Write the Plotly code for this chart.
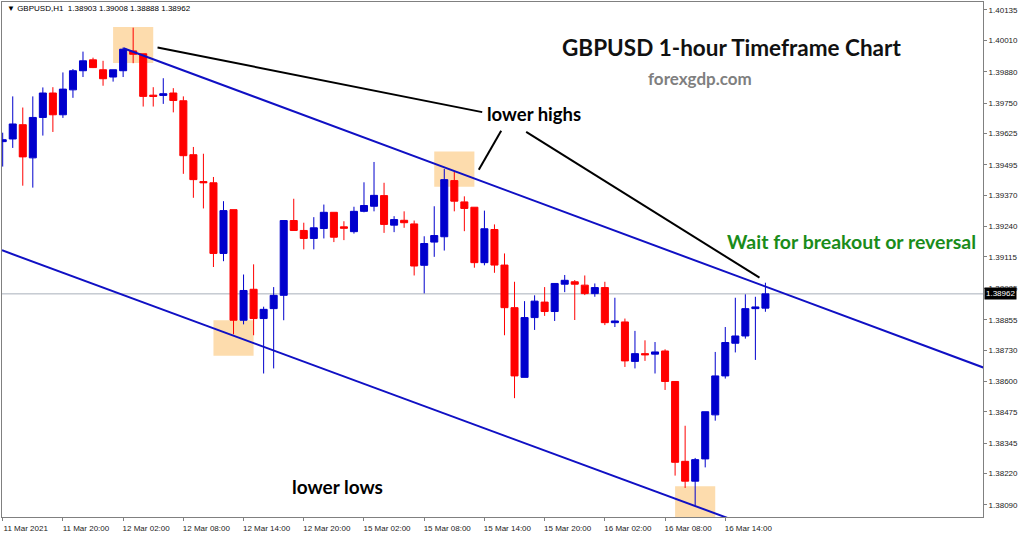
import plotly.graph_objects as go

# ---------------- data (GBPUSD H1, 11 Mar 14:00 -> 16 Mar 18:00) ----------------
opens = [
    1.39591, 1.39602, 1.39661, 1.39524, 1.39691, 1.39792, 1.39702, 1.39805, 1.39884, 1.39929,
    1.39888, 1.39858, 1.39884, 1.39966, 1.39954, 1.39783, 1.39782, 1.39792, 1.39760, 1.39537,
    1.39426, 1.39421, 1.39129, 1.39310, 1.38853, 1.38981, 1.38860, 1.38901, 1.38956, 1.39265,
    1.39224, 1.39191, 1.39232, 1.39299, 1.39239, 1.39219, 1.39303, 1.39324, 1.39368, 1.39246,
    1.39266, 1.39251, 1.39080, 1.39176, 1.39198, 1.39430, 1.39342, 1.39320, 1.39091, 1.39228,
    1.39081, 1.38905, 1.38617, 1.38864, 1.38928, 1.38889, 1.39002, 1.39012, 1.38998, 1.38963,
    1.38988, 1.38843, 1.38846, 1.38683, 1.38715, 1.38713, 1.38726, 1.38600, 1.38270, 1.38188,
    1.38280, 1.38462, 1.38623, 1.38758, 1.38788, 1.38901, 1.38903]
highs = [
    1.39628, 1.39778, 1.39732, 1.39778, 1.39815, 1.39816, 1.39877, 1.39891, 1.39963, 1.39938,
    1.39925, 1.39888, 1.39980, 1.40062, 1.39954, 1.39816, 1.39853, 1.39812, 1.39778, 1.39569,
    1.39541, 1.39445, 1.39345, 1.39310, 1.39042, 1.39084, 1.38909, 1.38990, 1.39265, 1.39355,
    1.39256, 1.39279, 1.39331, 1.39299, 1.39262, 1.39322, 1.39423, 1.39507, 1.39421, 1.39283,
    1.39303, 1.39265, 1.39200, 1.39324, 1.39478, 1.39468, 1.39365, 1.39320, 1.39306, 1.39249,
    1.39129, 1.39012, 1.38932, 1.38956, 1.38990, 1.39005, 1.39040, 1.39019, 1.39038, 1.39005,
    1.39012, 1.38946, 1.38860, 1.38809, 1.38770, 1.38763, 1.38733, 1.38600, 1.38417, 1.38284,
    1.38475, 1.38722, 1.38825, 1.38946, 1.38960, 1.38950, 1.39008]
lows = [
    1.39488, 1.39565, 1.39409, 1.39401, 1.39616, 1.39631, 1.39689, 1.39772, 1.39858, 1.39895,
    1.39822, 1.39839, 1.39858, 1.39915, 1.39736, 1.39736, 1.39747, 1.39712, 1.39458, 1.39359,
    1.39315, 1.39073, 1.39097, 1.38795, 1.38836, 1.38791, 1.38633, 1.38654, 1.38853, 1.39224,
    1.39146, 1.39146, 1.39191, 1.39176, 1.39184, 1.39211, 1.39299, 1.39303, 1.39214, 1.39217,
    1.39235, 1.39038, 1.38964, 1.39115, 1.39141, 1.39303, 1.39221, 1.39070, 1.39080, 1.39049,
    1.38791, 1.38531, 1.38617, 1.38813, 1.38871, 1.38850, 1.38969, 1.38854, 1.38957, 1.38950,
    1.38833, 1.38825, 1.38660, 1.38654, 1.38685, 1.38633, 1.38565, 1.38211, 1.38160, 1.38087,
    1.38245, 1.38438, 1.38612, 1.38720, 1.38777, 1.38689, 1.38888]
closes = [
    1.39599, 1.39664, 1.39528, 1.39691, 1.39792, 1.39702, 1.39808, 1.39884, 1.39925, 1.39897,
    1.39851, 1.39888, 1.39973, 1.39952, 1.39778, 1.39778, 1.39789, 1.39761, 1.39533, 1.39434,
    1.39421, 1.39129, 1.39306, 1.38853, 1.38976, 1.38860, 1.38898, 1.38956, 1.39265, 1.39224,
    1.39191, 1.39235, 1.39299, 1.39196, 1.39233, 1.39303, 1.39327, 1.39369, 1.39249, 1.39269,
    1.39256, 1.39077, 1.39170, 1.39203, 1.39434, 1.39345, 1.39315, 1.39091, 1.39231, 1.39081,
    1.38905, 1.38623, 1.38864, 1.38932, 1.38889, 1.39005, 1.39018, 1.39002, 1.38963, 1.38988,
    1.38843, 1.38850, 1.38685, 1.38715, 1.38710, 1.38722, 1.38600, 1.38266, 1.38188, 1.38277,
    1.38475, 1.38623, 1.38761, 1.38788, 1.38901, 1.38908, 1.38962]

x_tick_pos = [0, 6, 12, 18, 24, 30, 36, 42, 48, 54, 60, 66, 72]
x_tick_labels = ["11 Mar 2021", "11 Mar 20:00", "12 Mar 02:00", "12 Mar 08:00",
                 "12 Mar 14:00", "12 Mar 20:00", "15 Mar 02:00", "15 Mar 08:00",
                 "15 Mar 14:00", "15 Mar 20:00", "16 Mar 02:00", "16 Mar 08:00",
                 "16 Mar 14:00"]
y_tick_vals = [1.40135, 1.40010, 1.39880, 1.39750, 1.39625, 1.39495, 1.39370, 1.39240,
               1.39115, 1.38985, 1.38855, 1.38730, 1.38600, 1.38475, 1.38345, 1.38220,
               1.38090]
y_tick_labels = [f"{v:.5f}" for v in y_tick_vals]

current_price = 1.38962

# highlight boxes (bar-index range, price range)
highlight_x0 = [11, 43, 21, 67]
highlight_x1 = [15, 47, 25, 71]
highlight_y0 = [1.39916, 1.39405, 1.38706, 1.38167]
highlight_y1 = [1.40065, 1.39550, 1.38853, 1.37900]

# trend channel lines (bar index, price)
upper_line = [(12.04, 1.39977), (97.7, 1.38658)]
lower_line = [(-0.07, 1.39142), (80.0, 1.37917)]
# pointer lines
pointer_lines = [
    [(15.43, 1.39980), (47.78, 1.39713)],
    [(47.44, 1.39475), (49.67, 1.39636)],
    [(52.16, 1.39631), (75.41, 1.39029)],
]

idx = list(range(len(opens)))

BLUE = "#0000CD"
RED = "#FF0000"
TICKFONT = dict(family="Liberation Sans", size=8, color="#222222")
TEXTFONT = "Lato"

fig = go.Figure()
fig.add_trace(go.Candlestick(
    x=idx, open=opens, high=highs, low=lows, close=closes,
    increasing=dict(line=dict(color=BLUE, width=1), fillcolor=BLUE),
    decreasing=dict(line=dict(color=RED, width=1), fillcolor=RED),
    whiskerwidth=0, hoverinfo="skip", showlegend=False,
))

shapes = []
for x0, x1, y0, y1 in zip(highlight_x0, highlight_x1, highlight_y0, highlight_y1):
    shapes.append(dict(type="rect", xref="x", yref="y", x0=x0, x1=x1, y0=y0, y1=y1,
                       fillcolor="#FDDCAD", line=dict(width=0), layer="below"))
shapes.append(dict(type="line", xref="paper", yref="y", x0=0, x1=1,
                   y0=current_price, y1=current_price,
                   line=dict(color="#A8B0BA", width=1), layer="below"))
for (xa, ya), (xb, yb) in [upper_line, lower_line]:
    shapes.append(dict(type="line", xref="x", yref="y", x0=xa, y0=ya, x1=xb, y1=yb,
                       line=dict(color="#1010C4", width=2), layer="above"))
for (xa, ya), (xb, yb) in pointer_lines:
    shapes.append(dict(type="line", xref="x", yref="y", x0=xa, y0=ya, x1=xb, y1=yb,
                       line=dict(color="#000000", width=2), layer="above"))

annotations = [
    dict(text="<b>GBPUSD 1-hour Timeframe Chart</b>", x=72.6, y=1.39978, xref="x", yref="y",
         showarrow=False, font=dict(family=TEXTFONT, size=22.5, color="#111111")),
    dict(text="<b>forexgdp.com</b>", x=69.5, y=1.39851, xref="x", yref="y",
         showarrow=False, font=dict(family=TEXTFONT, size=17, color="#7F7F7F")),
    dict(text="<b>lower highs</b>", x=52.98, y=1.39706, xref="x", yref="y",
         showarrow=False, font=dict(family=TEXTFONT, size=18.5, color="#000000")),
    dict(text="<b>Wait for breakout or reversal</b>", x=84.6, y=1.39178, xref="x", yref="y",
         showarrow=False, font=dict(family=TEXTFONT, size=19.5, color="#1A8C1A")),
    dict(text="<b>lower lows</b>", x=33.33, y=1.38164, xref="x", yref="y",
         showarrow=False, font=dict(family=TEXTFONT, size=19, color="#000000")),
    dict(text="\u25BC GBPUSD,H1\u00a0\u00a01.38903 1.39008 1.38888 1.38962",
         xref="paper", yref="paper", x=0, y=1, xanchor="left", yanchor="top",
         xshift=3, yshift=0, showarrow=False,
         font=dict(family="Liberation Sans", size=8, color="#000000")),
    dict(text=f"{current_price:.5f}", xref="paper", yref="y", x=1, y=current_price,
         xanchor="left", yanchor="middle", xshift=1, showarrow=False,
         bgcolor="#000000", borderpad=1,
         font=dict(family="Liberation Sans", size=8, color="#FFFFFF")),
]

fig.update_layout(
    width=1024, height=534,
    margin=dict(l=1, r=41, t=1, b=16),
    paper_bgcolor="white", plot_bgcolor="white",
    shapes=shapes, annotations=annotations,
    boxgap=0.3, boxgroupgap=0,
    showlegend=False,
    xaxis=dict(
        range=[-0.07, 97.68], rangeslider=dict(visible=False),
        tickmode="array", tickvals=x_tick_pos, ticktext=x_tick_labels,
        showgrid=False, zeroline=False,
        showline=True, linecolor="#808080", linewidth=1, mirror=True,
        ticks="outside", ticklen=3, tickcolor="#808080",
        tickfont=TICKFONT, ticklabelshift=23, ticklabelstandoff=0,
    ),
    yaxis=dict(
        range=[1.38040, 1.40168], side="right",
        tickmode="array", tickvals=y_tick_vals, ticktext=y_tick_labels,
        showgrid=False, zeroline=False,
        showline=True, linecolor="#808080", linewidth=1, mirror=True,
        ticks="outside", ticklen=3, tickcolor="#808080",
        tickfont=TICKFONT,
    ),
)

fig.write_html(
    "out.html",
    config={"displayModeBar": False},
    post_script="document.body.style.margin='0';document.body.style.overflow='hidden';",
)
